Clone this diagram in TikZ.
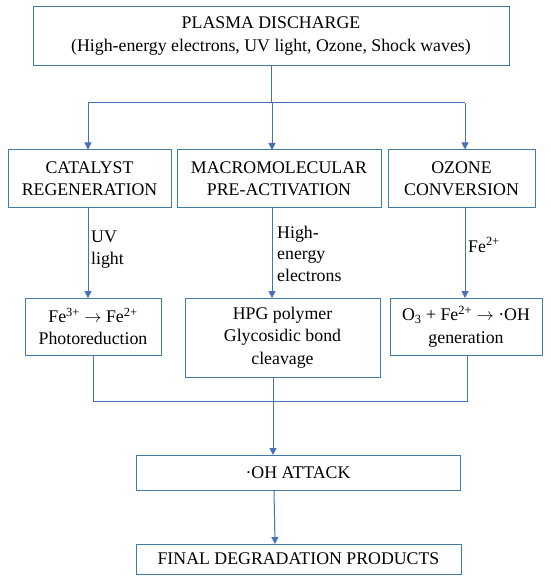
\documentclass[tikz,border=0pt]{standalone}
\usepackage{fontspec}
\setmainfont{Liberation Serif}
\usetikzlibrary{arrows.meta}
\definecolor{boxc}{RGB}{65,125,165}
\definecolor{arrc}{RGB}{70,112,185}
\begin{document}
\begin{tikzpicture}[x=1pt,y=-1pt,
  box/.style={draw=boxc,line width=1pt,align=center,inner sep=0pt,font=\fontsize{17.8}{22.5}\selectfont},
  lbl/.style={align=left,anchor=west,inner sep=0pt,font=\fontsize{17.8}{21.5}\selectfont},
  conn/.style={draw=arrc,line width=1pt},
  arr/.style={conn,-{Triangle[width=7pt,length=7pt]}}]
\useasboundingbox (0,0) rectangle (550,577);
\node[box,minimum width=476pt,minimum height=59pt] (top) at (271,36) {PLASMA DISCHARGE\\(High-energy electrons, UV light, Ozone, Shock waves)};
\node[box,minimum width=163pt,minimum height=57pt] (cat) at (89.5,178.5) {CATALYST\\REGENERATION};
\node[box,minimum width=204pt,minimum height=57pt] (mac) at (279,178.5) {MACROMOLECULAR\\PRE-ACTIVATION};
\node[box,minimum width=147pt,minimum height=57pt] (ozo) at (461.5,178.5) {OZONE\\CONVERSION};
\node[box,minimum width=136pt,minimum height=57pt] (fe) at (93,326.5) {Fe\textsuperscript{3+} $\rightarrow$ Fe\textsuperscript{2+}\\Photoreduction};
\node[box,minimum width=195pt,minimum height=79pt] (hpg) at (282.5,337.5) {HPG polymer\\Glycosidic bond\\cleavage};
\node[box,minimum width=152pt,minimum height=57pt] (o3) at (466,326.5) {O\textsubscript{3} + Fe\textsuperscript{2+} $\rightarrow$ ·OH\\generation};
\node[box,minimum width=324pt,minimum height=35pt] (oh) at (298,472.5) {·OH ATTACK};
\node[box,minimum width=325pt,minimum height=30pt] (fin) at (298.5,559) {FINAL DEGRADATION PRODUCTS};
% labels
\node[lbl] (l1) at (91,249.5) {UV\\light};
\node[lbl] (l2) at (277,253.5) {High-\\energy\\electrons};
\node[lbl] (l3) at (468,245) {Fe\textsuperscript{2+}};
% top split
\coordinate (j0) at (271,103);
\coordinate (jl) at (88,103);
\coordinate (jr) at (465,103);
\draw[conn] (top.south -| j0) -- (j0);
\draw[conn] (jl) -- (jr);
\draw[arr] (jl) -- (jl |- cat.north);
\draw[arr] (272,103) -- (272,150);
\draw[arr] (jr) -- (jr |- ozo.north);
% row 2 to row 3
\draw[arr] (88,207) -- (88,298);
\draw[arr] (272,207) -- (272,298);
\draw[arr] (465,207) -- (465,298);
% merge
\coordinate (ml) at (93,401);
\coordinate (mr) at (467,401);
\draw[conn] (ml |- fe.south) -- (ml) -- (mr) -- (mr |- o3.south);
\draw[arr] (273,377) -- (273,455);
\draw[arr] (274,490) -- (275,544);
\end{tikzpicture}
\end{document}
